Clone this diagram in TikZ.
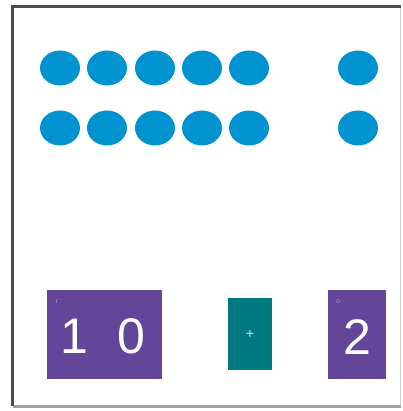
\documentclass[tikz,border=0pt]{standalone}
\usepackage{fontspec}
\setsansfont{Liberation Sans}
\usepackage{tikz}
\usetikzlibrary{shapes.geometric, positioning}

\definecolor{dotblue}{RGB}{0,147,208}
\definecolor{cardpurple}{RGB}{99,70,154}
\definecolor{cardteal}{RGB}{0,122,128}

\begin{document}
\begin{tikzpicture}[
        x=1pt, y=-1pt,
        dot/.style={
            ellipse,
            fill=dotblue,
            minimum width=40pt,
            minimum height=35pt,
            inner sep=0pt
        },
        card/.style={
            fill=cardpurple,
            minimum height=89pt,
            inner sep=0pt
        },
        digit/.style={
            text=white,
            inner sep=0pt,
            font=\sffamily\fontsize{50}{60}\selectfont
        },
        opcard/.style={
            fill=cardteal,
            minimum width=44pt,
            minimum height=72pt,
            inner sep=0pt,
            text=white!85!cardteal,
            font=\sffamily\fontsize{14}{16}\selectfont
        },
        tag/.style={
            text=white!60!cardpurple,
            font=\sffamily\fontsize{5}{6}\selectfont,
            inner sep=0pt
        }
    ]

    \useasboundingbox (0,0) rectangle (402,411);

    % frame
    \draw[line width=1pt, gray!35] (400.5,7) -- (400.5,406);
    \draw[line width=3pt, gray!75] (12.5,406) -- (400.5,406);
    \draw[line width=3pt, black!70] (12.5,406) -- (12.5,6.5) -- (401,6.5);

    % dots
    \foreach \col/\xc in {1/60, 2/107, 3/155, 4/202, 5/249, 6/358} {
        \node[dot] (top\col) at (\xc,68) {};
        \node[dot] (bot\col) at (\xc,128) {};
    }

    % cards
    \node[card, minimum width=115pt] (tens) at (104.5,334.5) {};
    \node[digit] (tensdigit) at (74,336) {1};
    \node[digit] (onesdigit) at (131,336) {0};
    \node[tag] (tenstag) at (57,302) {T};

    \node[opcard] (plus) at (250,334) {+};

    \node[card, minimum width=58pt] (ones) at (357,334.5) {};
    \node[digit] (twodigit) at (357,337) {2};
    \node[tag] (onestag) at (338,302) {O};

\end{tikzpicture}
\end{document}
